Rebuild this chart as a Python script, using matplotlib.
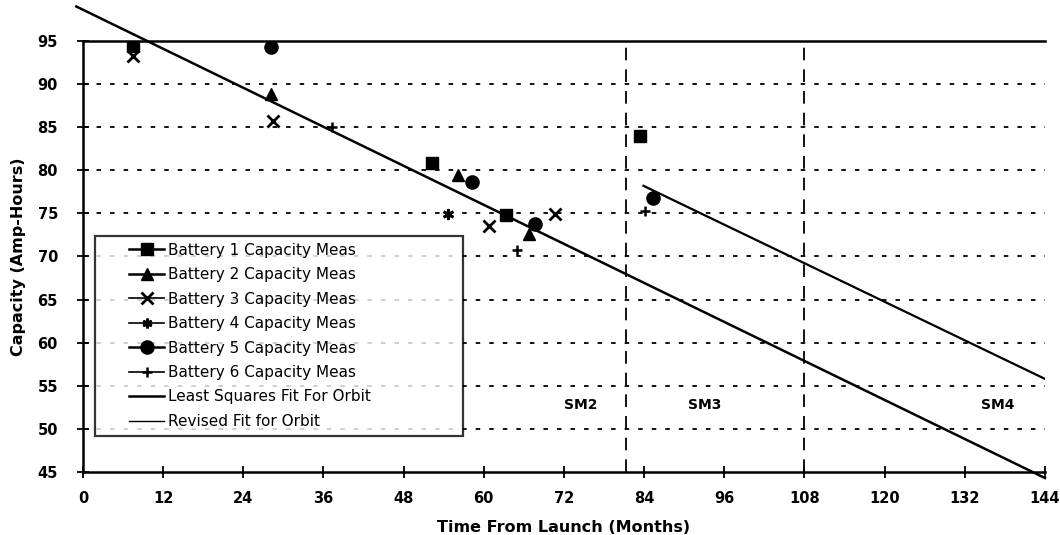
import matplotlib
matplotlib.use("Agg")
import matplotlib.pyplot as plt
from matplotlib.legend_handler import HandlerLine2D
import numpy as np

# ---- data (months, amp-hours) ----
b1_x = [7.5, 52.3, 63.3, 83.4]
b1_y = [94.4, 80.8, 74.8, 84.0]
b2_x = [28.2, 56.2, 66.8]
b2_y = [88.8, 79.5, 72.6]
b3_x = [7.5, 28.5, 60.8, 70.7]
b3_y = [93.2, 85.7, 73.5, 74.9]
b4_x = [54.7]
b4_y = [74.9]
b5_x = [28.2, 58.3, 67.7, 85.4]
b5_y = [94.3, 78.6, 73.8, 76.8]
b6_x = [37.2, 64.9, 84.1]
b6_y = [85.0, 70.8, 75.3]

fit_x = [-1.0, 144.0]
fit_y = [99.0, 44.3]
rev_x = [83.9, 144.0]
rev_y = [78.2, 55.8]

sm_x = [81.3, 108.0]
sm_labels = ["SM2", "SM3", "SM4"]
sm_label_x = [74.5, 93.0, 137.0]
sm_label_y = 52.8

x_ticks = list(range(0, 145, 12))
y_ticks = list(range(45, 96, 5))

series_labels = ["Battery 1 Capacity Meas", "Battery 2 Capacity Meas",
                 "Battery 3 Capacity Meas", "Battery 4 Capacity Meas",
                 "Battery 5 Capacity Meas", "Battery 6 Capacity Meas",
                 "Least Squares Fit For Orbit", "Revised Fit for Orbit"]

plt.rcParams['font.family'] = ['DejaVu Sans']


class OffsetHandler(HandlerLine2D):
    """Draws the legend sample in the right part of the handle box."""
    def __init__(self, offset, **kw):
        super().__init__(**kw)
        self.offset = offset

    def create_artists(self, legend, orig_handle, xdescent, ydescent,
                       width, height, fontsize, trans):
        return super().create_artists(legend, orig_handle,
                                      xdescent - self.offset, ydescent,
                                      width - self.offset, height,
                                      fontsize, trans)


fig = plt.figure(figsize=(10.6, 5.35), dpi=100)
ax = fig.add_axes([0.0783, 0.1178, 0.9075, 0.8056])

# grid lines
for yv in y_ticks[1:-1]:
    ax.axhline(yv, color='black', lw=1.3, ls=(0, (2.5, 5)), zorder=1)
for xv in sm_x:
    ax.axvline(xv, color='black', lw=1.3, ls=(0, (7, 5)), zorder=1)

k = dict(color='black', ls='none', zorder=3)
ax.plot(b1_x, b1_y, marker='s', ms=9, **k)
ax.plot(b2_x, b2_y, marker='^', ms=9, **k)
ax.plot(b3_x, b3_y, marker='x', ms=9, mew=2, **k)
ax.plot(b4_x, b4_y, marker=(6, 2, 0), ms=8, mew=2, **k)
ax.plot(b5_x, b5_y, marker='o', ms=9.5, **k)
ax.plot(b6_x, b6_y, marker='+', ms=7, mew=1.8, **k)
ax.plot(fit_x, fit_y, color='black', lw=1.8, clip_on=False, zorder=2)
ax.plot(rev_x, rev_y, color='black', lw=1.6, zorder=2)

for lbl, xv in zip(sm_labels, sm_label_x):
    ax.text(xv, sm_label_y, lbl, ha='center', va='center', fontsize=10, fontweight='bold')

ax.set_xlim(0, 144)
ax.set_ylim(45, 95)
ax.set_xticks(x_ticks)
ax.set_yticks(y_ticks)
ax.tick_params(direction='inout', length=8, width=1.3, labelsize=10.5)
ax.tick_params(axis='y', pad=14)
ax.tick_params(axis='x', pad=10)
for t in ax.get_xticklabels() + ax.get_yticklabels():
    t.set_fontweight('bold')
ax.spines['right'].set_visible(False)
for s in ['left', 'bottom', 'top']:
    ax.spines[s].set_linewidth(1.8)
ax.set_xlabel("Time From Launch (Months)", fontsize=11.5, fontweight='bold', labelpad=10)
ax.set_ylabel("Capacity (Amp-Hours)", fontsize=11.5, fontweight='bold', labelpad=8)

# legend handles with connecting lines
lh = [
    plt.Line2D([], [], color='black', lw=1.8, marker='s', ms=9),
    plt.Line2D([], [], color='black', lw=1.8, marker='^', ms=9),
    plt.Line2D([], [], color='black', lw=1.2, marker='x', ms=8, mew=2),
    plt.Line2D([], [], color='black', lw=1.2, marker=(6, 2, 0), ms=7, mew=2),
    plt.Line2D([], [], color='black', lw=1.8, marker='o', ms=9.5),
    plt.Line2D([], [], color='black', lw=1.2, marker='+', ms=7, mew=1.8),
    plt.Line2D([], [], color='black', lw=1.8),
    plt.Line2D([], [], color='black', lw=1.0),
]
hmap = {h: OffsetHandler(20.0) for h in lh}
leg = ax.legend(lh, series_labels, loc='upper left', handler_map=hmap,
                bbox_to_anchor=(0.012, 0.067, 0.383, 0.481), mode='expand',
                fontsize=11, frameon=True, fancybox=False, labelspacing=0.62,
                handlelength=4.1, handletextpad=0.25, borderpad=0.45,
                borderaxespad=0.0)
leg.get_frame().set_edgecolor('black')
leg.get_frame().set_linewidth(1.6)
leg.set_zorder(5)

fig.savefig("out.png", dpi=100)
